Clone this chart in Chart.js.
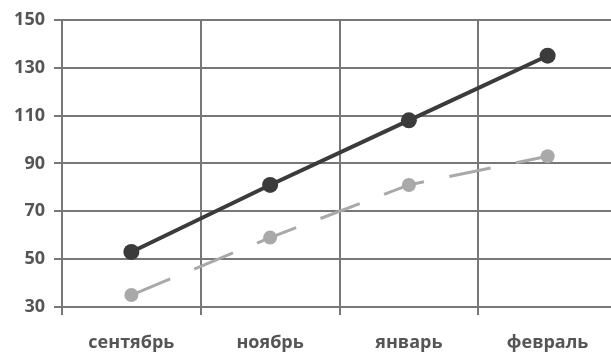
<!DOCTYPE html>
<html>
<head>
<meta charset="utf-8">
<script src="https://cdn.jsdelivr.net/npm/chart.js@4"></script>
<style>
html,body{margin:0;padding:0;background:#fff;overflow:hidden;}
#wrap{width:611px;height:354px;position:relative;overflow:hidden;}
canvas{display:block;}
</style>
</head>
<body>
<div id="wrap"><canvas id="c" width="625" height="354"></canvas></div>
<script>
const categories = ['сентябрь', 'ноябрь', 'январь', 'февраль'];
const seriesDark = [53, 81, 108, 135];
const seriesGray = [35, 59, 81, 93];
const yTicks = [30, 50, 70, 90, 110, 130, 150];

const textColor = '#555555';
const gridColor = '#777777';

new Chart(document.getElementById('c'), {
  type: 'line',
  data: {
    labels: categories,
    datasets: [
      {
        data: seriesGray,
        borderColor: '#a9a9a9',
        backgroundColor: '#a9a9a9',
        borderWidth: 3,
        borderDash: [42, 26],
        pointRadius: 7,
        pointBorderWidth: 0,
        pointBackgroundColor: '#a9a9a9',
        tension: 0
      },
      {
        data: seriesDark,
        borderColor: '#3b3b3b',
        backgroundColor: '#3b3b3b',
        borderWidth: 4,
        pointRadius: 8,
        pointBorderWidth: 0,
        pointBackgroundColor: '#3b3b3b',
        tension: 0
      }
    ]
  },
  options: {
    responsive: false,
    animation: false,
    devicePixelRatio: 1,
    layout: { padding: { top: 15, right: 0, left: 0, bottom: 0 } },
    plugins: { legend: { display: false }, tooltip: { enabled: false } },
    scales: {
      x: {
        offset: true,
        grid: {
          offset: true,
          color: gridColor,
          lineWidth: 2,
          drawTicks: true,
          tickLength: 8
        },
        border: { display: true, color: gridColor, width: 2 },
        ticks: {
          color: textColor,
          font: { family: 'Open Sans', size: 18, weight: 'bold' },
          padding: 17,
          maxRotation: 0
        },
        afterFit: (s) => { s.height = 47; }
      },
      y: {
        min: 30,
        max: 150,
        afterBuildTicks: (s) => { s.ticks = yTicks.map(v => ({ value: v })); },
        grid: {
          color: gridColor,
          lineWidth: 2,
          drawTicks: true,
          tickLength: 8
        },
        border: { display: true, color: gridColor, width: 2 },
        ticks: {
          color: textColor,
          font: { family: 'Open Sans', size: 18, weight: 'bold' },
          padding: 9
        },
        afterFit: (s) => { s.width = 62; }
      }
    }
  }
});
</script>
</body>
</html>
